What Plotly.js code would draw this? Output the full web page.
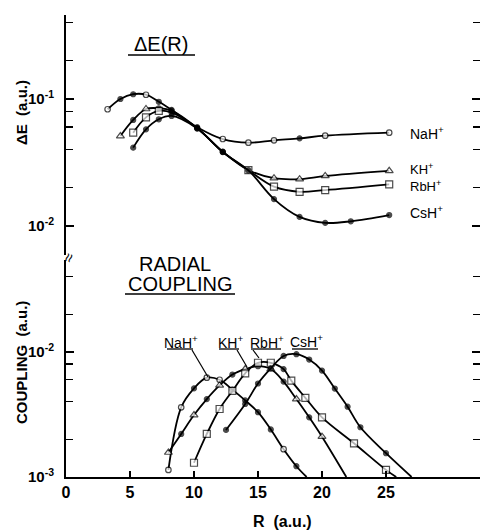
<!DOCTYPE html>
<html><head><meta charset="utf-8">
<script src="https://cdn.plot.ly/plotly-3.0.1.min.js"></script>
<style>html,body{margin:0;padding:0;background:#fff}</style>
</head><body>
<div id="chart" style="width:480px;height:532px"></div>
<script>
// ---------- DATA ----------
// Upper panel: energy gap ΔE(R) (a.u.)
var deNaR = [3.25, 4.25, 5.25, 6.25, 7.25, 8.25, 10.25, 12.25, 14.25, 16.25, 18.25, 20.25, 25.25];
var deNa  = [0.083, 0.100, 0.109, 0.108, 0.095, 0.082, 0.060, 0.0484, 0.0453, 0.0473, 0.049, 0.0514, 0.0543];
var deKR  = [4.25, 5.25, 6.25, 7.25, 8.25, 10.25, 12.25, 14.25, 16.25, 18.25, 20.25, 25.25];
var deK   = [0.0511, 0.0684, 0.0834, 0.0845, 0.081, 0.0590, 0.0385, 0.0276, 0.0238, 0.0234, 0.0248, 0.0272];
var deRbR = [5.25, 6.25, 7.25, 8.25, 10.25, 12.25, 14.25, 16.25, 18.25, 20.25, 25.25];
var deRb  = [0.0543, 0.0717, 0.0805, 0.078, 0.0588, 0.0383, 0.0275, 0.0204, 0.0186, 0.0192, 0.0213];
var deCsR = [5.25, 6.25, 7.25, 8.25, 10.25, 12.25, 14.25, 16.25, 18.25, 20.25, 22.25, 25.25];
var deCs  = [0.0414, 0.0577, 0.0692, 0.0735, 0.0586, 0.0382, 0.0274, 0.0163, 0.0118, 0.0106, 0.0109, 0.0122];

// Lower panel: radial coupling (a.u.)
var cpNaR = [8, 9, 10, 11, 12, 13, 14, 15, 16, 17, 18, 18.8];
var cpNa  = [0.00114, 0.00361, 0.00512, 0.00623, 0.0060, 0.0050, 0.0041, 0.0033, 0.0024, 0.00167, 0.00122, 0.001];
var cpKR  = [8, 9, 10, 11, 12, 13, 14, 15, 16, 17, 18, 19, 20, 21.9];
var cpK   = [0.00157, 0.00221, 0.00313, 0.0042, 0.0054, 0.0066, 0.0073, 0.0077, 0.0073, 0.0058, 0.0042, 0.0030, 0.0021, 0.001];
var cpRbR = [10, 11, 12, 13, 14, 15, 16, 17, 17.6, 18.7, 20, 22.5, 25, 25.8];
var cpRb  = [0.0013, 0.00221, 0.0035, 0.00488, 0.00675, 0.0082, 0.0082, 0.0073, 0.0059, 0.0043, 0.0030, 0.00186, 0.00114, 0.001];
var cpCsR = [12.5, 14, 15, 16, 17, 18, 19, 20, 21, 22, 23, 25, 27];
var cpCs  = [0.00238, 0.00384, 0.0056, 0.0074, 0.0093, 0.0096, 0.0087, 0.0071, 0.0051, 0.00365, 0.0025, 0.00155, 0.001];

var seriesNames = ['NaH', 'KH', 'RbH', 'CsH'];
var xTickVals = [0, 5, 10, 15, 20, 25];
var yUpTickVals = [0.01, 0.1];
var yUpTickText = ['10<sup>-2</sup>', '10<sup>-1</sup>'];
var yUpMinorVals = [0.02, 0.04, 0.06, 0.08, 0.2, 0.4];
var yLoTickVals = [0.001, 0.01];
var yLoTickText = ['10<sup>-3</sup>', '10<sup>-2</sup>'];
var yLoMinorVals = [0.002, 0.004, 0.006, 0.008, 0.02, 0.04];

// ---------- STYLE (marker kinds per point) ----------
// o open circle, . filled dot, t open triangle, s open square, - none
var deNaM = ['o','.','.','o','.','.','.','o','o','o','.','o','o'];
var deKM  = ['t','.','t','.','.','.','.','.','t','t','t','t'];
var deRbM = ['s','s','s','.','.','.','s','s','s','s','s'];
var deCsM = ['.','.','.','.','.','.','.','.','.','.','.','.'];
var cpNaM = ['o','o','.','o','o','.','.','.','.','o','.','-'];
var cpKM  = ['t','.','t','.','t','.','t','.','t','.','t','.','t','-'];
var cpRbM = ['s','s','s','s','s','s','s','.','s','s','s','s','s','-'];
var cpCsM = ['.','.','.','.','.','.','.','.','.','.','.','.','-'];

var INK = '#000';
var symMap = {o:'circle', '.':'circle', t:'triangle-up', s:'square', '-':'circle'};
var fillMap = {o:'#fff', '.':INK, t:'#fff', s:'#fff', '-':INK};
var sizeMap = {o:5.5, '.':5, t:7, s:7, '-':0};

function trace(x, y, marks, yaxis) {
  return {
    x: x, y: y, type: 'scatter', mode: 'lines+markers', yaxis: yaxis,
    showlegend: false, hoverinfo: 'skip',
    line: {shape: 'spline', smoothing: 1, color: INK, width: 1.8},
    marker: {
      symbol: marks.map(function(m){return symMap[m];}),
      color: marks.map(function(m){return fillMap[m];}),
      size: marks.map(function(m){return sizeMap[m];}),
      line: {color: INK, width: 1.2}
    }
  };
}

var data = [
  trace(deNaR, deNa, deNaM, 'y'),
  trace(deKR, deK, deKM, 'y'),
  trace(deRbR, deRb, deRbM, 'y'),
  trace(deCsR, deCs, deCsM, 'y'),
  trace(cpNaR, cpNa, cpNaM, 'y2'),
  trace(cpKR, cpK, cpKM, 'y2'),
  trace(cpRbR, cpRb, cpRbM, 'y2'),
  trace(cpCsR, cpCs, cpCsM, 'y2')
];

// ---------- LAYOUT ----------
var W = 480, H = 532, ML = 66, MR = 0, MT = 15, MB = 55;
var PW = W - ML - MR, PH = H - MT - MB;
function px(x) { return (x - ML) / PW; }
function py(y) { return (H - MB - y) / PH; }

var FONT = 'Liberation Sans, Arial, sans-serif';

function yAxisDef(domain, range, vals, text, minorVals) {
  return {
    type: 'log', showgrid: false, zeroline: false,
    showline: true, linecolor: INK, linewidth: 2,
    ticks: 'inside', ticklen: 8, tickwidth: 1.6, tickcolor: INK,
    mirror: 'ticks', anchor: 'x',
    tickfont: {family: FONT, size: 15, color: INK, weight: 'bold'},
    ticklabelstandoff: 7,
    domain: domain, range: range,
    tickmode: 'array', tickvals: vals, ticktext: text,
    minor: {tickmode: 'array', tickvals: minorVals, ticks: 'inside',
            ticklen: 7, tickwidth: 1.4, tickcolor: INK, showgrid: false}
  };
}

var yaxis = yAxisDef([py(255), 1], [-2.228, -0.339], yUpTickVals, yUpTickText, yUpMinorVals);
var yaxis2 = yAxisDef([0, py(260)], [-3, -1.264], yLoTickVals, yLoTickText, yLoMinorVals);

function ann(text, x, y, size, extra) {
  return Object.assign({
    text: text, x: x, y: y, xref: 'paper', yref: 'paper',
    showarrow: false, xanchor: 'center', yanchor: 'middle',
    font: {family: FONT, size: size, color: INK}
  }, extra || {});
}
function seg(x0, y0, x1, y1, w) {
  return {type: 'line', xref: 'paper', yref: 'paper',
    x0: px(x0), y0: py(y0), x1: px(x1), y1: py(y1),
    line: {color: INK, width: w || 1.5}};
}
var boldTitle = {family: FONT, size: 15, color: INK, weight: 'bold'};

var annotations = [
  ann('ΔE(R)', px(161), py(44), 20),
  ann('RADIAL', px(175), py(264), 20),
  ann('COUPLING', px(180), py(284), 20),
  ann('ΔE  (a.u.)', px(21), py(113), 15, {textangle: -90, font: boldTitle}),
  ann('COUPLING  (a.u.)', px(21), py(363), 15, {textangle: -90, font: boldTitle}),
  ann('R  (a.u.)', px(282), py(521), 16, {font: {family: FONT, size: 16, color: INK, weight: 'bold'}}),
  ann(seriesNames[0] + '<sup>+</sup>', px(408), py(133), 14, {xanchor: 'left'}),
  ann(seriesNames[1] + '<sup>+</sup>', px(408), py(169), 13, {xanchor: 'left'}),
  ann(seriesNames[2] + '<sup>+</sup>', px(408), py(186), 13, {xanchor: 'left'}),
  ann(seriesNames[3] + '<sup>+</sup>', px(408), py(212), 14, {xanchor: 'left'}),
  ann(seriesNames[0] + '<sup>+</sup>', px(181), py(342), 14),
  ann(seriesNames[1] + '<sup>+</sup>', px(230), py(342), 14),
  ann(seriesNames[2] + '<sup>+</sup>', px(267), py(342), 14),
  ann(seriesNames[3] + '<sup>+</sup>', px(306), py(341), 14),
  ann('≈', px(68), py(258), 16, {textangle: -70})
];

var shapes = [
  seg(128, 55, 195, 55, 1.6),
  seg(125, 294, 235, 294, 1.6),
  seg(167, 349, 193, 349, 1.3),
  seg(219, 349, 239, 349, 1.3),
  seg(251, 349, 281, 349, 1.3),
  seg(292, 349, 318, 349, 1.3),
  seg(192, 350, 208, 377, 1.2),
  seg(237, 350, 247, 367, 1.2),
  seg(253, 350, 259, 358, 1.2)
];

var layout = {
  width: W, height: H,
  margin: {l: ML, r: MR, t: MT, b: MB},
  paper_bgcolor: '#fff', plot_bgcolor: 'rgba(0,0,0,0)',
  font: {family: FONT, color: INK},
  showlegend: false,
  xaxis: {
    range: [0, PW / 12.8], anchor: 'y2',
    showgrid: false, zeroline: false,
    showline: true, linecolor: INK, linewidth: 2,
    ticks: 'inside', ticklen: 6, tickwidth: 1.6, tickcolor: INK,
    tickmode: 'array', tickvals: xTickVals,
    tickfont: {family: FONT, size: 16, color: INK, weight: 'bold'},
    ticklabelstandoff: 0
  },
  yaxis: yaxis,
  yaxis2: yaxis2,
  annotations: annotations,
  shapes: shapes
};

Plotly.newPlot('chart', data, layout, {displayModeBar: false, staticPlot: true});
</script>
</body></html>
